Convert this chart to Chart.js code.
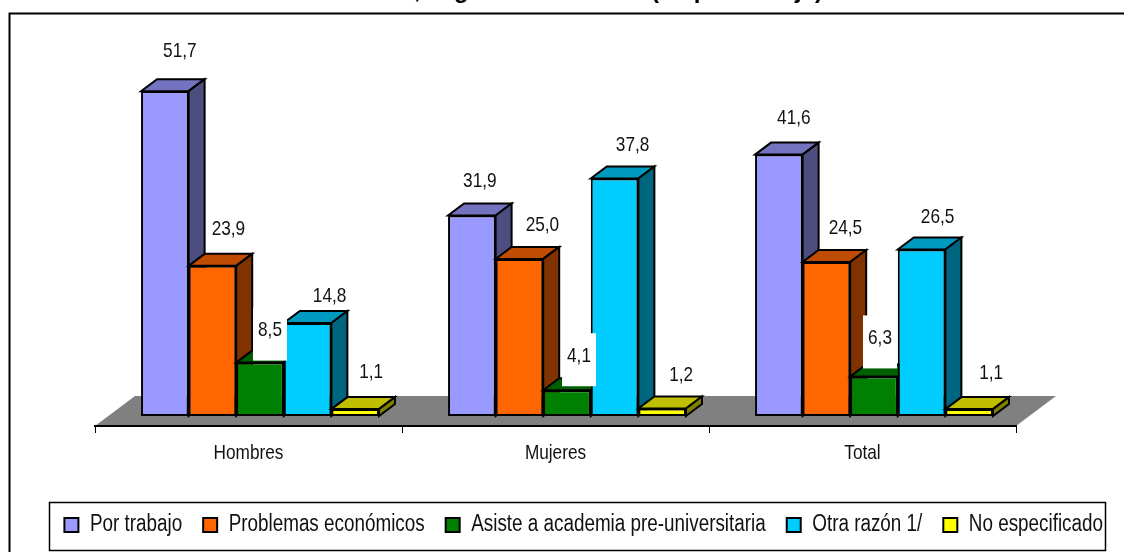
<!DOCTYPE html>
<html>
<head>
<meta charset="utf-8">
<style>
  html, body { margin: 0; padding: 0; background: #fff; overflow: hidden; }
  canvas { display: block; }
</style>
<script src="https://cdn.jsdelivr.net/npm/chart.js@4"></script>
</head>
<body>
<canvas id="grafico" width="1124" height="552"></canvas>
<script>
// title is cut off at the top of the picture, only descenders show
var titulo_izq = ", según sexo";
var titulo_der = "(en porcentaje)";

var categorias = ["Hombres", "Mujeres", "Total"];
var por_trabajo = [51.7, 31.9, 41.6];
var problemas_economicos = [23.9, 25.0, 24.5];
var academia = [8.5, 4.1, 6.3];
var otra_razon = [14.8, 37.8, 26.5];
var no_especificado = [1.1, 1.2, 1.1];

var series = ["Por trabajo", "Problemas económicos", "Asiste a academia pre-universitaria", "Otra razón 1/", "No especificado"];
var valores = [por_trabajo, problemas_economicos, academia, otra_razon, no_especificado];
var color_frente = ["#9999FF", "#FF6600", "#008000", "#00CCFF", "#FFFF00"];
var color_techo = ["#7373BF", "#BF4C00", "#006000", "#0099BF", "#BFBF00"];
var color_lado = ["#4D4D80", "#803300", "#004000", "#006680", "#808000"];

// manual nudges of the value labels from the bar centre/top, one row per series
var nudge_x = [[15, 8, 15], [16, 23, 19], [10, 12, 6], [22, 18, 16], [16, 19, 22]];
var nudge_y = [[-40, -34, -36], [-37, -34, -34], [-32, -34, -38], [-27, -33, -32], [-37, -33, -36]];

var FUENTE = '"Liberation Sans", Arial, sans-serif';
var PROF_X = 16, PROF_Y = -12;   // bar depth
var SUELO_X = 40, SUELO_Y = -30; // floor depth
var BASE_X = 11.5, BASE_Y = -10; // bars stand in the middle of the floor

// no narrow font installed, so squeeze all chart text sideways
var canvas = document.getElementById("grafico");
var ctx2d = canvas.getContext("2d");
var ANGOSTO = 0.82;
var fillText_orig = ctx2d.fillText.bind(ctx2d);
var measureText_orig = ctx2d.measureText.bind(ctx2d);
ctx2d.fillText = function(texto, x, y) {
    ctx2d.save();
    ctx2d.translate(x, y);
    ctx2d.scale(ANGOSTO, 1);
    fillText_orig(texto, 0, 0);
    ctx2d.restore();
};
ctx2d.measureText = function(texto) {
    return { width: measureText_orig(texto).width * ANGOSTO };
};

function cara(ctx, puntos, color) {
    ctx.beginPath();
    ctx.moveTo(puntos[0][0], puntos[0][1]);
    for (var i = 1; i < puntos.length; i++) ctx.lineTo(puntos[i][0], puntos[i][1]);
    ctx.closePath();
    ctx.fillStyle = color;
    ctx.fill();
    ctx.lineWidth = 2;
    ctx.lineJoin = "miter";
    ctx.strokeStyle = "#000";
    ctx.stroke();
}

var plugin_3d = {
    id: "efecto3d",
    afterLayout: function(chart) {
        // legend goes inside its frame, on one row
        var l = chart.legend;
        l.maxWidth = 1400;
        l.fit();
        l.left = 43.4;
        l.right = 1400;
        l.top = 492.4;
        l.bottom = l.top + l.height;
        // tick labels get clipped to the scale box, give them room
        chart.scales.x.bottom = chart.chartArea.bottom + 50;
    },
    beforeDraw: function(chart) {
        var ctx = chart.ctx, a = chart.chartArea;
        ctx.save();
        // outer frame, right and bottom fall out of the picture
        ctx.strokeStyle = "#000";
        ctx.lineWidth = 2;
        ctx.beginPath();
        ctx.moveTo(9.5, 552);
        ctx.lineTo(9.5, 13.5);
        ctx.lineTo(1124, 13.5);
        ctx.stroke();
        // title, wide letters so not squeezed
        ctx.fillStyle = "#000";
        ctx.font = "bold 24px " + FUENTE;
        ctx.textAlign = "left";
        ctx.textBaseline = "alphabetic";
        fillText_orig(titulo_izq, 414, -2);
        fillText_orig(titulo_der, 651, -2);
        // legend frame
        ctx.lineWidth = 1.5;
        ctx.strokeRect(49.5, 502.5, 1056, 48);
        // floor
        ctx.fillStyle = "#808080";
        ctx.beginPath();
        ctx.moveTo(a.left, a.bottom);
        ctx.lineTo(a.right, a.bottom);
        ctx.lineTo(a.right + SUELO_X, a.bottom + SUELO_Y);
        ctx.lineTo(a.left + SUELO_X, a.bottom + SUELO_Y);
        ctx.closePath();
        ctx.fill();
        ctx.restore();
    },
    beforeDatasetsDraw: function(chart) {
        // draw left to right so each bar covers the side of the one before it
        var ctx = chart.ctx;
        ctx.save();
        ctx.translate(BASE_X, BASE_Y);
        var metas = series.map(function(n, i) { return chart.getDatasetMeta(i); });
        metas.forEach(function(meta, i) {
            meta.controller.draw();
            meta.data.forEach(function(b) {
                var x1 = b.x - b.width / 2, x2 = b.x + b.width / 2, y1 = b.y, y2 = b.base;
                cara(ctx, [[x1, y1], [x2, y1], [x2 + PROF_X, y1 + PROF_Y], [x1 + PROF_X, y1 + PROF_Y]], color_techo[i]);
                cara(ctx, [[x2, y1], [x2 + PROF_X, y1 + PROF_Y], [x2 + PROF_X, y2 + PROF_Y], [x2, y2]], color_lado[i]);
            });
        });
        ctx.font = "21px " + FUENTE;
        ctx.textAlign = "center";
        ctx.textBaseline = "middle";
        metas.forEach(function(meta, s) {
            meta.data.forEach(function(b, j) {
                var tx = b.x + nudge_x[s][j], ty = b.y + nudge_y[s][j];
                if (s === 2) {
                    // the green labels carry a white box
                    ctx.fillStyle = "#fff";
                    ctx.fillRect(tx - 17, ty - 23, 34, 53);
                }
                ctx.fillStyle = "#111";
                ctx.fillText(valores[s][j].toFixed(1).replace(".", ","), tx, ty);
            });
        });
        ctx.restore();
        return false;
    }
};

var datasets = series.map(function(nombre, i) {
    return {
        label: nombre,
        data: valores[i],
        backgroundColor: color_frente[i],
        borderColor: "#000",
        borderWidth: 2,
        borderSkipped: false
    };
});

new Chart(canvas, {
    type: "bar",
    data: { labels: categorias, datasets: datasets },
    plugins: [plugin_3d],
    options: {
        responsive: false,
        animation: false,
        devicePixelRatio: 1,
        layout: { padding: { left: 95, right: 108, top: 49, bottom: 0 } },
        datasets: { bar: { categoryPercentage: 0.775, barPercentage: 1 } },
        scales: {
            x: {
                grid: { drawOnChartArea: false, tickLength: 7, tickColor: "#000" },
                border: { color: "#000", width: 2 },
                ticks: { color: "#111", font: { family: FUENTE, size: 21 }, padding: 8, maxRotation: 0 },
                afterFit: function(s) { s.height = 28; }
            },
            y: { display: false, min: 0, max: 60 }
        },
        plugins: {
            tooltip: { enabled: false },
            legend: {
                position: "bottom",
                align: "start",
                labels: {
                    boxWidth: 14, boxHeight: 14, padding: 21, color: "#111",
                    font: { family: FUENTE, size: 23 },
                    generateLabels: function(chart) {
                        return series.map(function(nombre, i) {
                            return { text: nombre, fillStyle: color_frente[i], strokeStyle: "#000", lineWidth: 2, datasetIndex: i, fontColor: "#111" };
                        });
                    }
                }
            }
        }
    }
});
</script>
</body>
</html>
